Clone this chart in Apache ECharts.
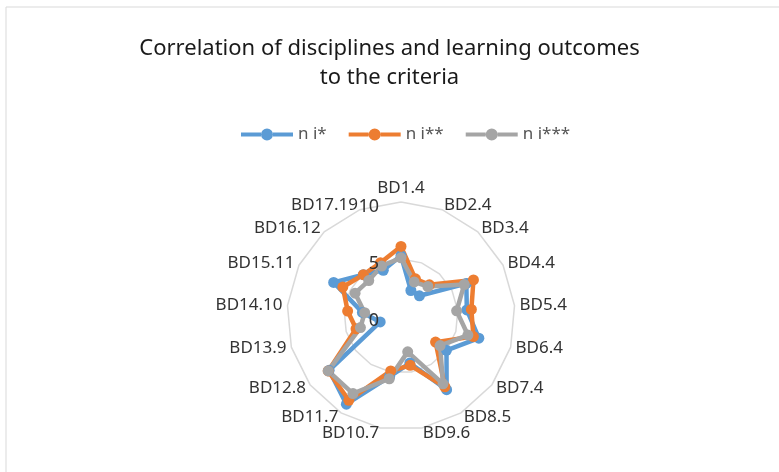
<!DOCTYPE html>
<html>
<head>
<meta charset="utf-8">
<script src="https://cdn.jsdelivr.net/npm/echarts@6/dist/echarts.min.js"></script>
<style>
html, body { margin: 0; padding: 0; background: #fff; }
#main { width: 779px; height: 472px; }
</style>
</head>
<body>
<div id="main"></div>
<script>
// categories (disciplines)
const categories = ['BD1.4', 'BD2.4', 'BD3.4', 'BD4.4', 'BD5.4', 'BD6.4', 'BD7.4', 'BD8.5', 'BD9.6',
	'BD10.7', 'BD11.7', 'BD12.8', 'BD13.9', 'BD14.10', 'BD15.11', 'BD16.12', 'BD17.19']
const seriesNames = ['n i*', 'n i**', 'n i***']
// values
const valuesA = [5.3, 2.4, 2.4, 6.4, 5.8, 7.1, 5.0, 7.6, 4.2, 5.4, 9.1, 7.9, 1.9, 3.4, 6.6, 4.9, 4.3]
const valuesB = [6.1, 3.5, 3.7, 7.1, 6.2, 6.6, 3.8, 7.3, 4.4, 4.9, 8.7, 8.0, 4.1, 4.7, 5.7, 4.9, 5.0]
const valuesC = [5.1, 3.2, 3.5, 6.2, 4.9, 6.1, 4.3, 7.0, 3.2, 5.6, 8.0, 8.0, 3.7, 3.2, 4.5, 4.2, 4.7]
const colors = ['#5B9BD5', '#ED7D31', '#A5A5A5']
const axisMax = 10

const font = 'Noto Sans'
// line with a dot in the middle, like the excel legend key
const legendIcon = 'path://M0,4L20,4L20,8L0,8Z M32,4L52,4L52,8L32,8Z M20,6a6,6 0 1,0 12,0a6,6 0 1,0 -12,0Z'

// echarts radar runs counter-clockwise, excel runs clockwise: keep the first, reverse the rest
const clockwise = (arr) => [arr[0]].concat(arr.slice(1).reverse())

const chart = echarts.init(document.getElementById('main'))

const option = {
	backgroundColor: '#fff',
	color: colors,
	title: {
		text: 'Correlation of disciplines and learning outcomes\nto the criteria',
		left: 'center',
		top: 29,
		textStyle: {
			fontFamily: font,
			fontSize: 22,
			lineHeight: 29,
			fontWeight: 'normal',
			color: '#1a1a1a'
		}
	},
	legend: {
		top: 121,
		left: 236,
		icon: legendIcon,
		itemWidth: 52,
		itemHeight: 12,
		itemGap: 22,
		textStyle: { fontFamily: font, fontSize: 17, color: '#555' },
		data: seriesNames
	},
	graphic: [
		{
			type: 'rect',
			shape: { x: 6, y: 7, width: 800, height: 500 },
			style: { fill: 'none', stroke: '#d9d9d9', lineWidth: 1 },
			silent: true
		}
	],
	radar: {
		center: [401, 316],
		radius: 114,
		startAngle: 90,
		splitNumber: 2,
		shape: 'polygon',
		indicator: clockwise(categories).map(function(c) { return { name: c, min: 0, max: axisMax } }),
		axisName: { fontFamily: font, fontSize: 17, color: '#333' },
		nameGap: 5,
		axisLine: { show: false },
		axisTick: { show: false },
		axisLabel: { show: false },
		splitArea: { show: false },
		splitLine: { lineStyle: { color: '#d9d9d9', width: 1.5 } }
	},
	// only used for the 0 / 5 / 10 labels on the top axis
	polar: { center: [401, 316], radius: 114 },
	angleAxis: { show: false, startAngle: 90, min: 0, max: 360 },
	radiusAxis: {
		z: 10,
		min: 0,
		max: axisMax,
		interval: 5,
		axisLine: { show: false },
		axisTick: { show: false },
		splitLine: { show: false },
		axisLabel: {
			margin: 22,
			formatter: '{t|{value}}',
			rich: { t: { fontFamily: font, fontSize: 18, color: '#333', padding: [9, 0, 0, 0] } }
		}
	},
	series: [
		{
			type: 'radar',
			symbol: 'circle',
			symbolSize: 11,
			lineStyle: { width: 4.5 },
			data: [
				{ name: seriesNames[0], value: clockwise(valuesA) },
				{ name: seriesNames[1], value: clockwise(valuesB) },
				{ name: seriesNames[2], value: clockwise(valuesC) }
			]
		}
	]
}

chart.setOption(option)
</script>
</body>
</html>
